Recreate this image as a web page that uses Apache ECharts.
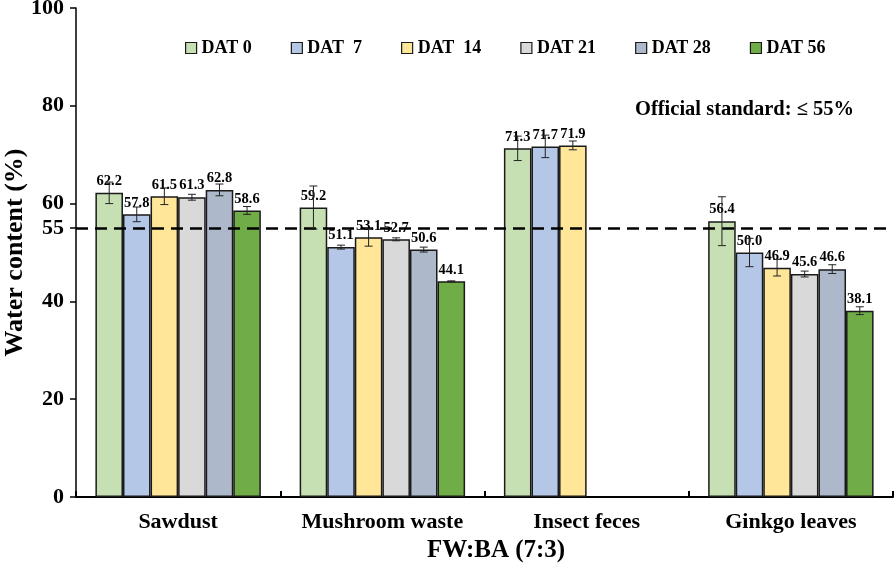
<!DOCTYPE html>
<html>
<head>
<meta charset="utf-8">
<script src="https://cdn.jsdelivr.net/npm/echarts@6/dist/echarts.min.js"></script>
<style>html,body{margin:0;padding:0;background:#fff}#c{width:896px;height:574px}</style>
</head>
<body>
<div id="c"></div>
<script>
const categories = ['Sawdust', 'Mushroom waste', 'Insect feces', 'Ginkgo leaves'];
const seriesNames = ['DAT 0', 'DAT  7', 'DAT  14', 'DAT 21', 'DAT 28', 'DAT 56'];
const dat0  = [62.2, 59.2, 71.3, 56.4];
const dat7  = [57.8, 51.1, 71.7, 50.0];
const dat14 = [61.5, 53.1, 71.9, 46.9];
const dat21 = [61.3, 52.7, null, 45.6];
const dat28 = [62.8, 50.6, null, 46.6];
const dat56 = [58.6, 44.1, null, 38.1];
const err0  = [2.2, 4.4, 2.5, 5.0];
const err7  = [1.5, 0.4, 2.3, 2.9];
const err14 = [1.7, 1.8, 0.9, 1.7];
const err21 = [0.6, 0.3, null, 0.6];
const err28 = [1.2, 0.5, null, 0.9];
const err56 = [0.8, 0.1, null, 0.8];
const yTicks = [0, 20, 40, 55, 60, 80, 100];
const standardValue = 55;

const values = [dat0, dat7, dat14, dat21, dat28, dat56];
const errors = [err0, err7, err14, err21, err28, err56];
const colors = ['#c6e0b4', '#b4c7e7', '#ffe699', '#d9d9d9', '#adb9ca', '#70ad47'];
const FONT = '"Liberation Serif", "Times New Roman", serif';
const GAP = 0.19;

const chart = echarts.init(document.getElementById('c'), null, {renderer: 'canvas'});

const barSeries = values.map((vals, i) => ({
  name: seriesNames[i],
  type: 'bar',
  data: vals,
  barGap: '0%',
  barCategoryGap: (GAP * 100) + '%',
  itemStyle: {color: colors[i], borderColor: '#1a1a1a', borderWidth: 1.5},
  label: {
    show: true, position: 'top', distance: 4,
    fontFamily: FONT, fontWeight: 'bold', fontSize: 14.5, color: '#000',
    formatter: p => p.value == null ? '' : Number(p.value).toFixed(1)
  },
  markLine: i === 0 ? {
    silent: true, symbol: 'none',
    label: {show: false},
    lineStyle: {color: '#000', type: [12, 7], width: 2.5},
    data: [{yAxis: standardValue}]
  } : undefined,
  z: 2
}));

const errData = [];
values.forEach((vals, si) => {
  vals.forEach((v, ci) => {
    if (v != null && errors[si][ci] != null) errData.push([ci, v, errors[si][ci], si]);
  });
});

function renderErr(params, api) {
  const ci = api.value(0), v = api.value(1), e = api.value(2), si = api.value(3);
  const band = api.size([1, 0])[0];
  const bw = band * (1 - GAP) / 6;
  const x = api.coord([ci, 0])[0] - band * (1 - GAP) / 2 + (si + 0.5) * bw;
  const yt = api.coord([ci, v + e])[1];
  const yb = api.coord([ci, v - e])[1];
  const cap = 4;
  const st = {stroke: '#222', lineWidth: 1};
  return {
    type: 'group',
    children: [
      {type: 'line', shape: {x1: x, y1: yt, x2: x, y2: yb}, style: st},
      {type: 'line', shape: {x1: x - cap, y1: yt, x2: x + cap, y2: yt}, style: st},
      {type: 'line', shape: {x1: x - cap, y1: yb, x2: x + cap, y2: yb}, style: st}
    ]
  };
}

chart.setOption({
  animation: false,
  backgroundColor: '#fff',
  grid: {left: 76, right: 3, top: 8, bottom: 77, containLabel: false, outerBoundsMode: 'none'},
  legend: {
    data: seriesNames,
    left: 180, top: 34,
    itemWidth: 11, itemHeight: 11, itemGap: 39,
    icon: 'rect',
    itemStyle: {borderColor: '#1a1a1a', borderWidth: 1.2},
    textStyle: {fontFamily: FONT, fontWeight: 'bold', fontSize: 18, color: '#000'}
  },
  xAxis: {
    type: 'category',
    data: categories,
    axisLine: {lineStyle: {color: '#000', width: 2}},
    axisTick: {show: true, inside: true, length: 6, interval: 0, lineStyle: {color: '#000', width: 2}},
    axisLabel: {interval: 0, fontFamily: FONT, fontWeight: 'bold', fontSize: 22, color: '#000', margin: 14},
    splitLine: {show: false}
  },
  yAxis: {
    type: 'value', min: 0, max: 100,
    name: 'Water content (%)', nameLocation: 'middle', nameGap: 48, nameRotate: 90,
    nameMoveOverlap: false,
    nameTextStyle: {fontFamily: FONT, fontWeight: 'bold', fontSize: 26, color: '#000'},
    axisLine: {show: true, lineStyle: {color: '#000', width: 1.5}},
    axisTick: {show: true, length: 6, customValues: yTicks, lineStyle: {color: '#000', width: 1.5}},
    axisLabel: {customValues: yTicks, fontFamily: FONT, fontWeight: 'bold', fontSize: 22, color: '#000', margin: 12},
    splitLine: {show: false}
  },
  graphic: [
    {type: 'text', left: 427, top: 538, style: {text: 'FW:BA (7:3)', font: 'bold 25px ' + FONT, fill: '#000'}},
    {type: 'text', left: 635, top: 99, style: {text: 'Official standard: \u2264 55%', font: 'bold 20.5px ' + FONT, fill: '#000'}}
  ],
  series: barSeries.concat([{
    type: 'custom',
    renderItem: renderErr,
    data: errData,
    encode: {x: 0, y: 1},
    z: 5,
    silent: true
  }])
});
</script>
</body>
</html>
